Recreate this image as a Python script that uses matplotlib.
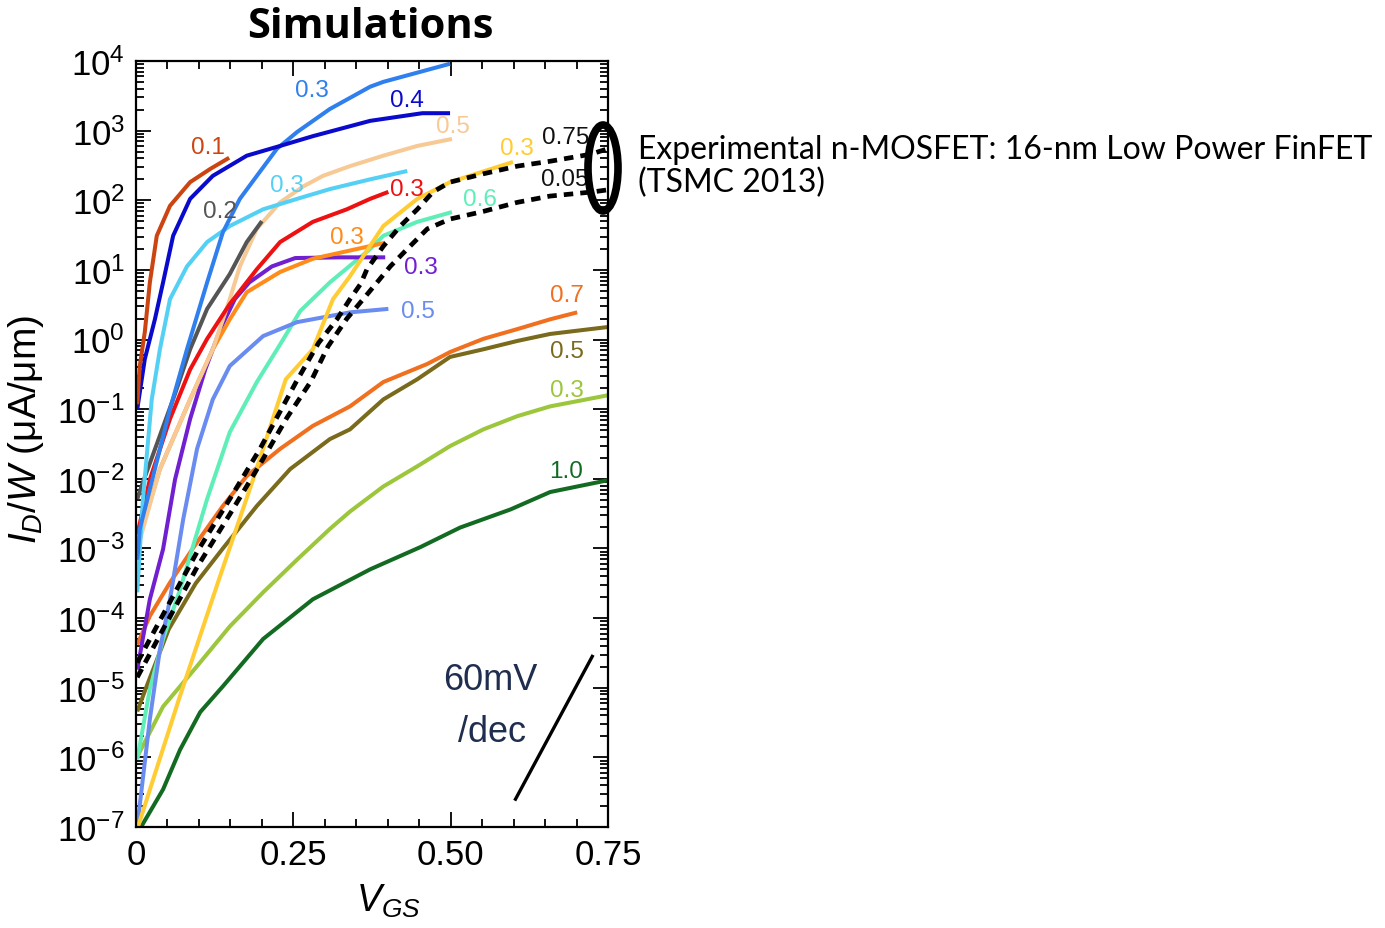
import numpy as np
import matplotlib
matplotlib.use("Agg")
import matplotlib.pyplot as plt
from matplotlib.patches import Ellipse
from matplotlib.ticker import LogLocator, MultipleLocator, FixedLocator, LogFormatterSciNotation

plt.rcParams['font.family'] = ['Liberation Sans', 'DejaVu Sans']
plt.rcParams['mathtext.fontset'] = 'custom'
plt.rcParams['mathtext.rm'] = 'Liberation Sans'
plt.rcParams['mathtext.it'] = 'Liberation Sans:italic'

# ---- data: V_GS (V) and log10(I_D/W in uA/um) ----
v_01 = [0.002, 0.006, 0.014, 0.022, 0.033, 0.054, 0.086, 0.118, 0.148]
lg_01 = [-0.93, -0.38, 0.11, 0.82, 1.49, 1.92, 2.26, 2.45, 2.61]

v_04 = [0.002, 0.014, 0.030, 0.043, 0.059, 0.086, 0.122, 0.176, 0.229, 0.281, 0.372, 0.455, 0.499]
lg_04 = [-1.0, -0.28, 0.29, 0.82, 1.49, 2.02, 2.35, 2.64, 2.78, 2.92, 3.14, 3.25, 3.25]

v_03b = [0.002, 0.006, 0.054, 0.081, 0.113, 0.138, 0.165, 0.192, 0.224, 0.256, 0.308, 0.372, 0.393, 0.499]
lg_03b = [-3.16, -2.72, -1.0, -0.14, 0.82, 1.54, 2.02, 2.35, 2.74, 2.98, 3.31, 3.63, 3.70, 3.96]

v_03c = [0.002, 0.011, 0.025, 0.038, 0.054, 0.081, 0.113, 0.149, 0.202, 0.256, 0.308, 0.372, 0.431]
lg_03c = [-3.63, -2.29, -0.86, -0.14, 0.58, 1.05, 1.40, 1.63, 1.87, 2.02, 2.16, 2.30, 2.42]

v_02 = [0.002, 0.011, 0.062, 0.086, 0.113, 0.149, 0.176, 0.200]
lg_02 = [-2.29, -2.05, -0.78, -0.14, 0.44, 0.94, 1.40, 1.70]

v_03r = [0.002, 0.022, 0.054, 0.086, 0.113, 0.149, 0.192, 0.229, 0.281, 0.335, 0.372, 0.401]
lg_03r = [-2.80, -2.01, -1.14, -0.43, 0.01, 0.51, 1.01, 1.40, 1.69, 1.87, 2.02, 2.12]

v_05p = [0.002, 0.038, 0.086, 0.122, 0.149, 0.165, 0.192, 0.229, 0.266, 0.297, 0.340, 0.393, 0.447, 0.502]
lg_05p = [-3.01, -1.86, -0.86, -0.14, 0.58, 1.05, 1.59, 1.97, 2.20, 2.35, 2.49, 2.64, 2.78, 2.88]

v_03o = [0.002, 0.038, 0.086, 0.122, 0.149, 0.176, 0.229, 0.281, 0.351, 0.396]
lg_03o = [-2.94, -1.86, -0.86, -0.14, 0.29, 0.68, 0.97, 1.16, 1.30, 1.39]

v_03v = [0.002, 0.022, 0.043, 0.062, 0.086, 0.110, 0.134, 0.157, 0.180, 0.216, 0.253, 0.324, 0.396]
lg_03v = [-4.74, -3.73, -3.01, -2.01, -1.14, -0.43, 0.15, 0.58, 0.82, 1.05, 1.17, 1.18, 1.18]

v_05c = [0.002, 0.022, 0.038, 0.054, 0.075, 0.097, 0.122, 0.149, 0.202, 0.256, 0.340, 0.401]
lg_05c = [-6.99, -5.45, -4.45, -3.73, -2.58, -1.57, -0.86, -0.38, 0.05, 0.25, 0.39, 0.44]

v_06 = [0.002, 0.022, 0.043, 0.070, 0.113, 0.149, 0.192, 0.229, 0.261, 0.308, 0.372, 0.393, 0.447, 0.502]
lg_06 = [-6.03, -5.02, -4.30, -3.59, -2.29, -1.33, -0.61, -0.07, 0.41, 0.82, 1.30, 1.49, 1.69, 1.83]

v_03y = [0.003, 0.068, 0.132, 0.186, 0.238, 0.281, 0.313, 0.340, 0.393, 0.447, 0.499, 0.599]
lg_03y = [-7.0, -5.17, -3.44, -2.01, -0.57, -0.14, 0.58, 0.91, 1.63, 2.02, 2.26, 2.55]

v_exp075 = [0.002, 0.043, 0.097, 0.149, 0.197, 0.225, 0.255, 0.290, 0.320, 0.340, 0.357, 0.367, 0.393,
            0.420, 0.447, 0.472, 0.499, 0.552, 0.606, 0.658, 0.722, 0.750]
lg_exp075 = [-4.64, -3.95, -3.05, -2.29, -1.57, -1.10, -0.60, -0.05, 0.30, 0.58, 0.80, 1.01, 1.34,
             1.63, 1.87, 2.12, 2.26, 2.38, 2.49, 2.56, 2.66, 2.74]

v_exp005 = [0.002, 0.043, 0.097, 0.149, 0.197, 0.240, 0.278, 0.305, 0.335, 0.361, 0.383, 0.404, 0.431,
            0.463, 0.499, 0.552, 0.606, 0.658, 0.726, 0.750]
lg_exp005 = [-4.85, -4.16, -3.27, -2.51, -1.79, -1.12, -0.60, -0.10, 0.30, 0.58, 0.82, 1.05, 1.30,
             1.59, 1.73, 1.84, 1.97, 2.06, 2.12, 2.15]

v_07 = [0.002, 0.022, 0.054, 0.097, 0.138, 0.176, 0.229, 0.281, 0.340, 0.393, 0.463, 0.499, 0.552, 0.606, 0.658, 0.701]
lg_07 = [-4.38, -3.97, -3.49, -2.91, -2.39, -1.96, -1.57, -1.24, -0.96, -0.61, -0.35, -0.18, 0.01, 0.15, 0.29, 0.39]

v_05o = [0.002, 0.016, 0.052, 0.095, 0.138, 0.192, 0.245, 0.308, 0.340, 0.393, 0.447, 0.499, 0.552, 0.606, 0.658, 0.750]
lg_05o = [-5.34, -5.00, -4.16, -3.50, -3.00, -2.39, -1.86, -1.43, -1.29, -0.86, -0.57, -0.25, -0.14, -0.02, 0.08, 0.18]

v_03g = [0.002, 0.043, 0.097, 0.149, 0.202, 0.256, 0.308, 0.340, 0.393, 0.447, 0.499, 0.552, 0.606, 0.658, 0.750]
lg_03g = [-5.99, -5.27, -4.69, -4.12, -3.63, -3.16, -2.72, -2.47, -2.11, -1.82, -1.53, -1.29, -1.10, -0.96, -0.80]

v_10 = [0.008, 0.043, 0.070, 0.102, 0.138, 0.202, 0.281, 0.372, 0.452, 0.515, 0.595, 0.658, 0.750]
lg_10 = [-7.0, -6.46, -5.89, -5.35, -4.98, -4.30, -3.73, -3.30, -2.98, -2.70, -2.44, -2.19, -2.02]

# 60 mV/dec reference segment
v_slope = [0.603, 0.725]
lg_slope = [-6.60, -4.55]

# (x, y) arrays, colour, label text, label position (V, log10 I)
curves = [
    (v_10, lg_10, "#136b22", "1.0", (0.684, -1.89)),
    (v_03g, lg_03g, "#9cc63c", "0.3", (0.684, -0.73)),
    (v_05o, lg_05o, "#7a6a1c", "0.5", (0.684, -0.17)),
    (v_07, lg_07, "#f0701f", "0.7", (0.684, 0.64)),
    (v_06, lg_06, "#60eeb8", "0.6", (0.547, 2.02)),
    (v_05c, lg_05c, "#6a8cf0", "0.5", (0.448, 0.41)),
    (v_03v, lg_03v, "#7020d0", "0.3", (0.452, 1.04)),
    (v_03o, lg_03o, "#ff8c1a", "0.3", (0.335, 1.47)),
    (v_05p, lg_05p, "#f7c995", "0.5", (0.504, 3.07)),
    (v_03r, lg_03r, "#ee1111", "0.3", (0.431, 2.16)),
    (v_02, lg_02, "#555555", "0.2", (0.134, 1.84)),
    (v_03c, lg_03c, "#55d0f5", "0.3", (0.240, 2.22)),
    (v_03b, lg_03b, "#2f80ee", "0.3", (0.280, 3.58)),
    (v_04, lg_04, "#0a0acc", "0.4", (0.431, 3.44)),
    (v_01, lg_01, "#cc4411", "0.1", (0.114, 2.76)),
    (v_03y, lg_03y, "#ffcc33", "0.3", (0.606, 2.75)),
]

fig = plt.figure(figsize=(13.85, 9.29), dpi=100)
ax = fig.add_axes([0.0982, 0.1087, 0.3408, 0.8246])

for v, lg, col, lab, pos in curves:
    ax.plot(v, np.power(10.0, lg), color=col, lw=2.9, solid_capstyle='butt')
    ax.text(pos[0], 10 ** pos[1], lab, color=col, fontsize=17.5, ha='center', va='center')

# experimental FinFET (dashed)
ax.plot(v_exp075, np.power(10.0, lg_exp075), color='black', lw=3.4, ls=(0, (2, 1.5)))
ax.plot(v_exp005, np.power(10.0, lg_exp005), color='black', lw=3.4, ls=(0, (2, 1.5)))
ax.text(0.682, 10 ** 2.91, "0.75", fontsize=17.5, ha='center', va='center', color='#111111')
ax.text(0.682, 10 ** 2.30, "0.05", fontsize=17.5, ha='center', va='center', color='#111111')

ax.plot(v_slope, np.power(10.0, lg_slope), color='black', lw=2.4)
ax.text(0.563, 10 ** -4.88, "60mV", fontsize=26, ha='center', va='center', color='#1f2d4f')
ax.text(0.566, 10 ** -5.63, "/dec", fontsize=26, ha='center', va='center', color='#1f2d4f')

ax.set_yscale('log')
ax.set_xlim(0, 0.75)
ax.set_ylim(1e-7, 1e4)
ax.xaxis.set_major_locator(FixedLocator([0, 0.25, 0.5, 0.75]))
ax.xaxis.set_minor_locator(MultipleLocator(0.05))
ax.set_xticklabels(['0', '0.25', '0.50', '0.75'])
ax.yaxis.set_major_locator(LogLocator(base=10, numticks=20))
ax.yaxis.set_minor_locator(LogLocator(base=10, subs=np.arange(2, 10), numticks=20))
ax.yaxis.set_major_formatter(LogFormatterSciNotation())
ax.tick_params(which='both', direction='in', top=True, right=True, width=1.3, labelsize=25)
ax.tick_params(which='major', length=11, pad=8)
ax.tick_params(which='minor', length=6)
for s in ax.spines.values():
    s.set_linewidth(1.6)

ax.set_xlabel(r"$V_{GS}$", fontsize=27)
ax.xaxis.set_label_coords(0.535, -0.072)
ax.set_ylabel(r"$I_{D}/W$ (μA/μm)", fontsize=28)
ax.yaxis.set_label_coords(-0.19, 0.52)

fig.text(370 / 1385, 1 - 28 / 929, "Simulations", fontsize=30, fontweight='bold',
         family='Open Sans', ha='center', va='center')

fig.add_artist(Ellipse((603 / 1385, 1 - 169 / 929), 30 / 1385, 86 / 929,
                       transform=fig.transFigure, fill=False, lw=5.5, ec='black'))
fig.text(638 / 1385, 1 - 150 / 929, "Experimental n-MOSFET: 16-nm Low Power FinFET",
         fontsize=23, family='Lato', ha='left', va='center')
fig.text(638 / 1385, 1 - 183 / 929, "(TSMC 2013)",
         fontsize=23, family='Lato', ha='left', va='center')

fig.savefig("out.png", dpi=100)
